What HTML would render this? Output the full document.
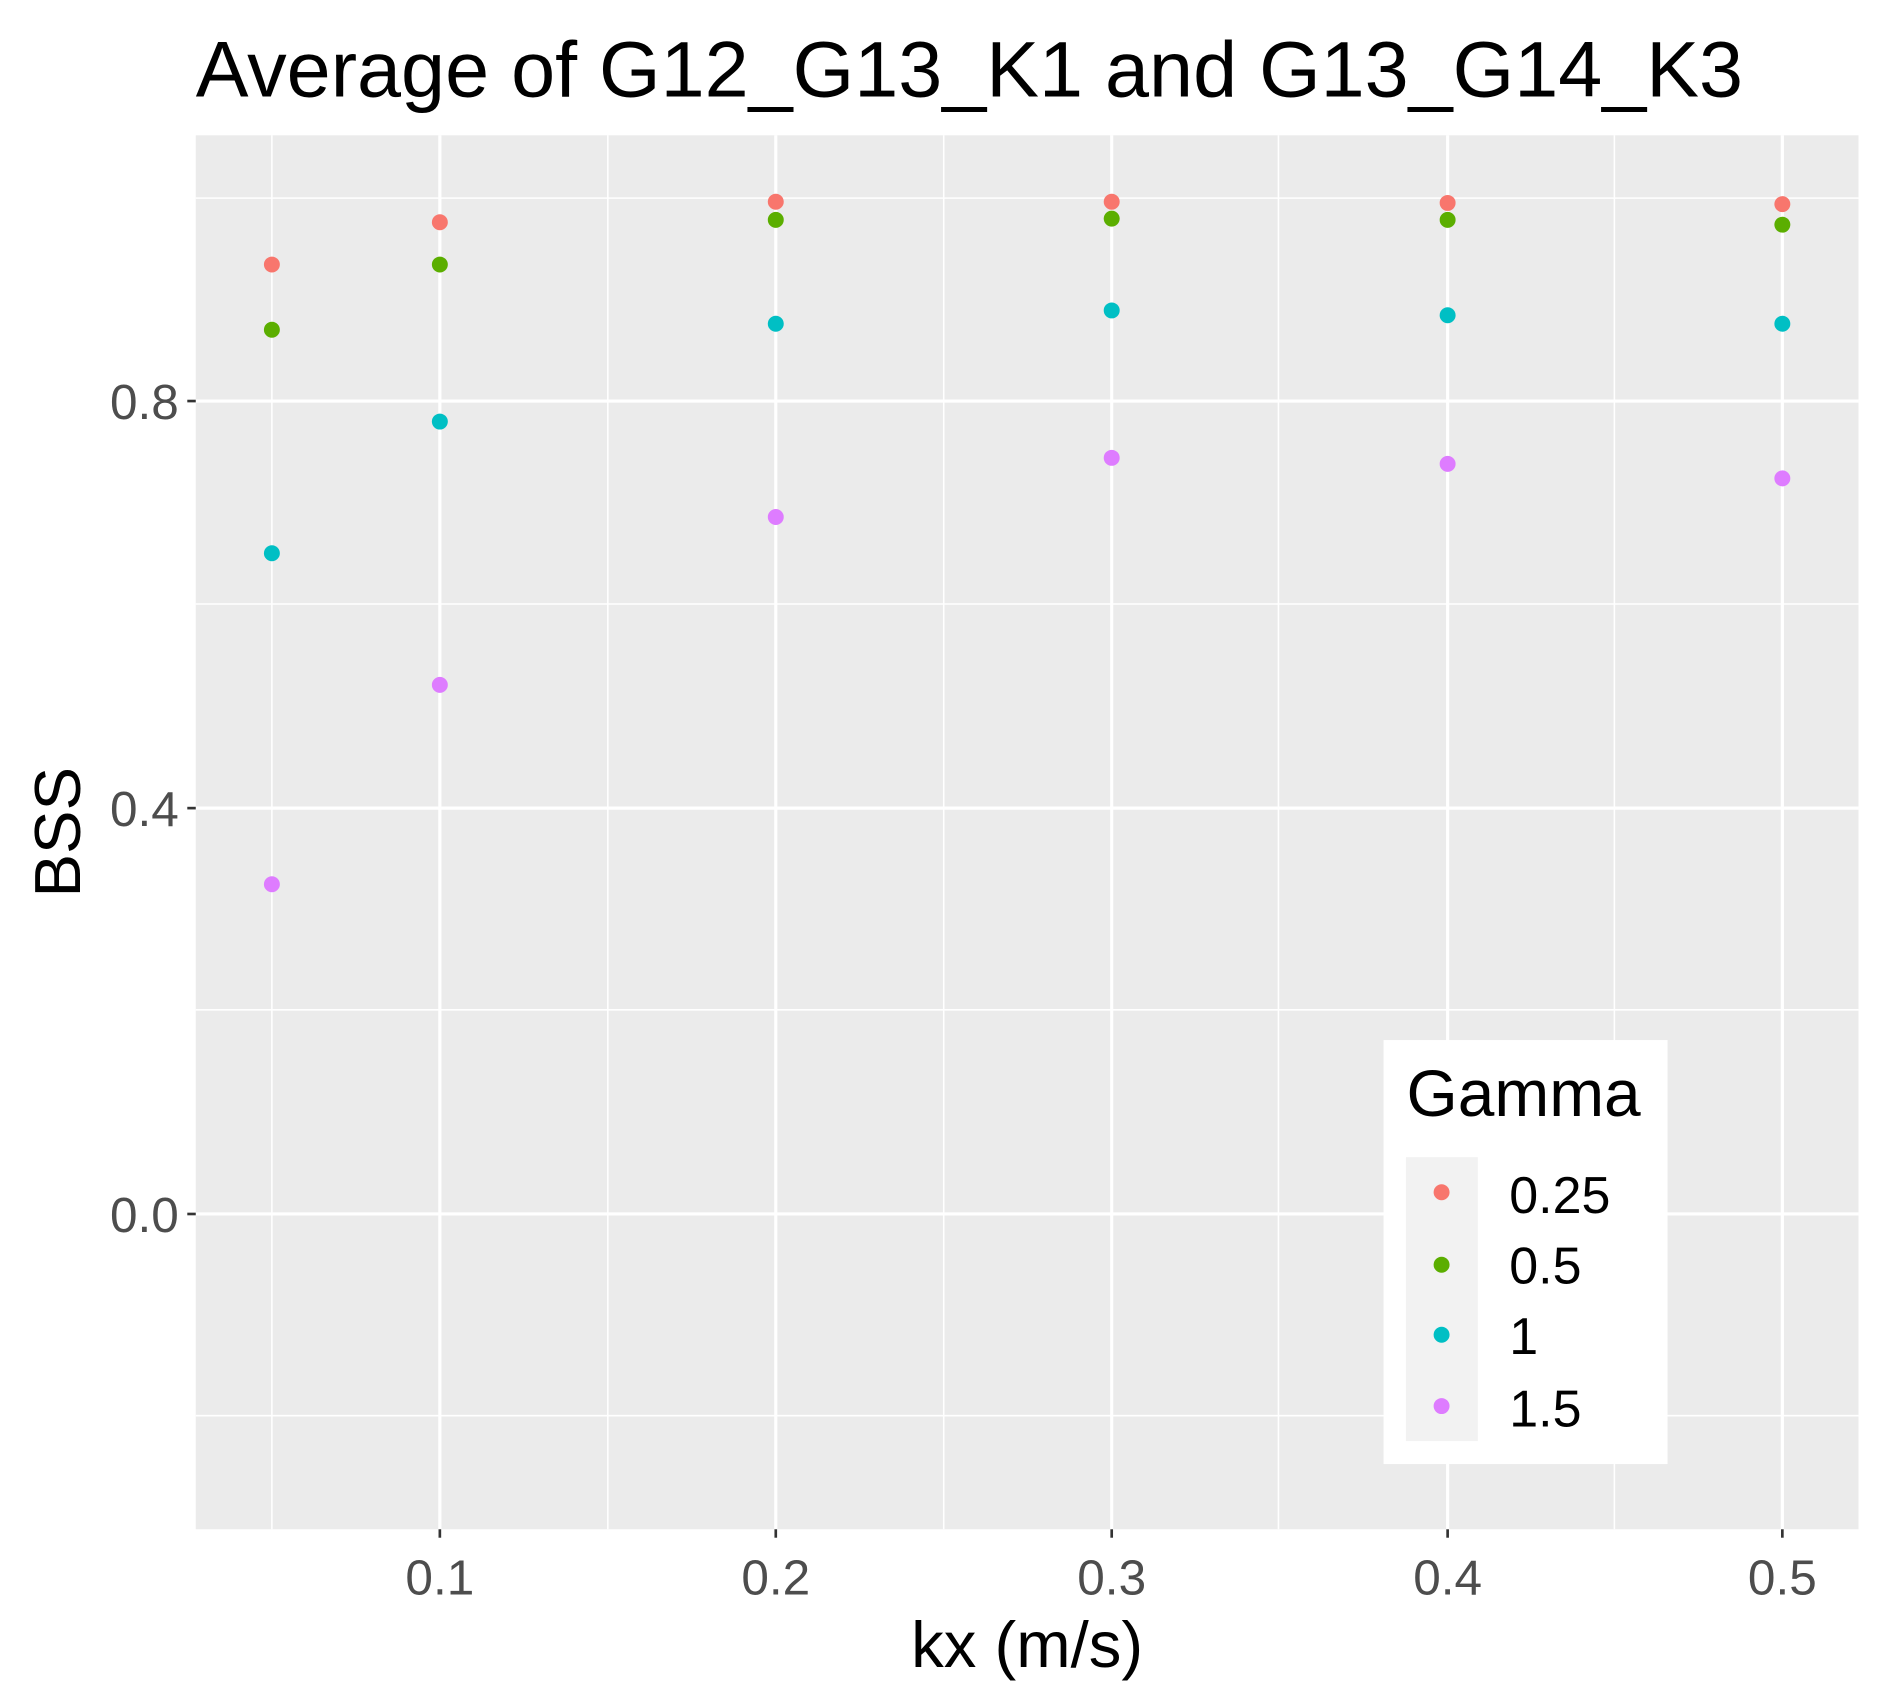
<!DOCTYPE html>
<html><head><style>body{margin:0;background:#fff}svg{display:block}</style></head><body>
<svg width="1894" height="1702" viewBox="0 0 1567.4 1409" preserveAspectRatio="none" xmlns="http://www.w3.org/2000/svg" font-family="Liberation Sans, Arial, sans-serif">
<rect width="1568" height="1409" fill="#fff"/>
<text x="162" y="80" font-size="65.5" fill="#000">Average of G12_G13_K1 and G13_G14_K3</text>
<rect x="162" y="112" width="1376" height="1154" fill="#EBEBEB"/>
<g stroke="#fff" stroke-width="1.3">
<line x1="162" x2="1538" y1="164" y2="164"/><line x1="162" x2="1538" y1="500" y2="500"/><line x1="162" x2="1538" y1="836" y2="836"/><line x1="162" x2="1538" y1="1172" y2="1172"/>
<line x1="225" x2="225" y1="112" y2="1266"/><line x1="503" x2="503" y1="112" y2="1266"/><line x1="781" x2="781" y1="112" y2="1266"/><line x1="1058" x2="1058" y1="112" y2="1266"/><line x1="1336" x2="1336" y1="112" y2="1266"/>
</g>
<g stroke="#fff" stroke-width="2.6">
<line x1="162" x2="1538" y1="332" y2="332"/><line x1="162" x2="1538" y1="669" y2="669"/><line x1="162" x2="1538" y1="1005" y2="1005"/>
<line x1="364" x2="364" y1="112" y2="1266"/><line x1="642" x2="642" y1="112" y2="1266"/><line x1="920" x2="920" y1="112" y2="1266"/><line x1="1198" x2="1198" y1="112" y2="1266"/><line x1="1475" x2="1475" y1="112" y2="1266"/>
</g>
<g stroke="#333" stroke-width="2.2">
<line x1="155" x2="162" y1="332" y2="332"/><line x1="155" x2="162" y1="669" y2="669"/><line x1="155" x2="162" y1="1005" y2="1005"/>
<line x1="364" x2="364" y1="1266" y2="1273"/><line x1="642" x2="642" y1="1266" y2="1273"/><line x1="920" x2="920" y1="1266" y2="1273"/><line x1="1198" x2="1198" y1="1266" y2="1273"/><line x1="1475" x2="1475" y1="1266" y2="1273"/>
</g>
<g font-size="41" fill="#4D4D4D" text-anchor="end">
<text x="148" y="347">0.8</text><text x="148" y="684">0.4</text><text x="148" y="1020">0.0</text>
</g>
<g font-size="41" fill="#4D4D4D" text-anchor="middle">
<text x="364" y="1320">0.1</text><text x="642" y="1320">0.2</text><text x="920" y="1320">0.3</text><text x="1198" y="1320">0.4</text><text x="1475" y="1320">0.5</text>
</g>
<text x="850" y="1380" font-size="54" text-anchor="middle" fill="#000">kx (m/s)</text>
<text transform="translate(66,689) rotate(-90)" font-size="54" text-anchor="middle" fill="#000">BSS</text>
<g fill="#F8766D"><circle cx="225" cy="219" r="6.6"/><circle cx="364" cy="184" r="6.6"/><circle cx="642" cy="167" r="6.6"/><circle cx="920" cy="167" r="6.6"/><circle cx="1198" cy="168" r="6.6"/><circle cx="1475" cy="169" r="6.6"/></g>
<g fill="#5BAE00"><circle cx="225" cy="273" r="6.6"/><circle cx="364" cy="219" r="6.6"/><circle cx="642" cy="182" r="6.6"/><circle cx="920" cy="181" r="6.6"/><circle cx="1198" cy="182" r="6.6"/><circle cx="1475" cy="186" r="6.6"/></g>
<g fill="#00BFC4"><circle cx="225" cy="458" r="6.6"/><circle cx="364" cy="349" r="6.6"/><circle cx="642" cy="268" r="6.6"/><circle cx="920" cy="257" r="6.6"/><circle cx="1198" cy="261" r="6.6"/><circle cx="1475" cy="268" r="6.6"/></g>
<g fill="#DE7CFF"><circle cx="225" cy="732" r="6.6"/><circle cx="364" cy="567" r="6.6"/><circle cx="642" cy="428" r="6.6"/><circle cx="920" cy="379" r="6.6"/><circle cx="1198" cy="384" r="6.6"/><circle cx="1475" cy="396" r="6.6"/></g>
<rect x="1145" y="861" width="235" height="351" fill="#fff"/>
<text x="1164" y="924" font-size="54.5" fill="#000">Gamma</text>
<rect x="1163.5" y="958" width="59.5" height="235" fill="#F2F2F2"/>
<circle cx="1193" cy="987" r="6.6" fill="#F8766D"/><circle cx="1193" cy="1047" r="6.6" fill="#5BAE00"/><circle cx="1193" cy="1105" r="6.6" fill="#00BFC4"/><circle cx="1193" cy="1164" r="6.6" fill="#DE7CFF"/>
<g font-size="43" fill="#000">
<text x="1249" y="1004">0.25</text><text x="1249" y="1062.5">0.5</text><text x="1249" y="1121">1</text><text x="1249" y="1181">1.5</text>
</g>
</svg>
</body></html>
